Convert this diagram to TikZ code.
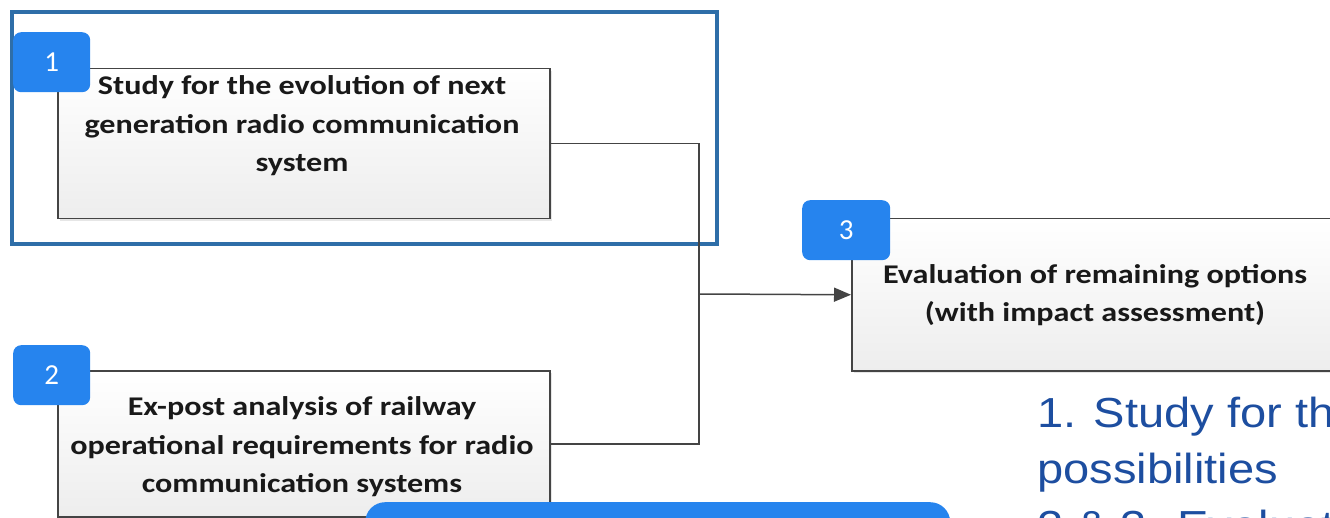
\documentclass[tikz,border=0pt]{standalone}
\usepackage{fontspec}
\setmainfont{Carlito}
\newfontfamily\boxfont[FakeStretch=1.19]{Carlito}
\newfontfamily\arialf[FakeStretch=1.12]{Liberation Sans}
\usetikzlibrary{arrows.meta,shadows}
\definecolor{frameblue}{RGB}{46,110,168}
\definecolor{badgeblue}{RGB}{38,132,238}
\definecolor{textblue}{RGB}{29,78,160}
\definecolor{linegray}{RGB}{68,68,68}
\tikzset{
  procbox/.style={draw=linegray, line width=1.5pt, top color=white, bottom color=black!7,
    drop shadow={opacity=0.2, shadow xshift=2pt, shadow yshift=-2pt},
    minimum width=492pt, minimum height=150pt, inner sep=0pt, anchor=north west},
  boxtext/.style={align=center, font=\boxfont\fontsize{27}{38.5}\selectfont\bfseries, text=black!90},
  badge/.style={fill=badgeblue, rounded corners=8pt, minimum width=77pt, minimum height=60pt,
    inner sep=0pt, anchor=north west, text=white, font=\fontsize{29}{30}\selectfont},
  bluetext/.style={anchor=base west, inner sep=0pt, text=textblue, font=\arialf\fontsize{42}{56}\selectfont},
  conn/.style={draw=linegray, line width=1.5pt},
  arrowtip/.style={-{Triangle[length=17pt,width=14pt]}}
}
\begin{document}
\begin{tikzpicture}[x=1pt,y=-1pt]
\useasboundingbox (0,0) rectangle (1330,518);
\clip (0,0) rectangle (1330,518);
% boxes
\node[procbox] (b1) at (57,68) {};
\node[procbox, minimum height=146pt] (b2) at (57,370) {};
\node[procbox, minimum width=500pt, minimum height=152pt] (b3) at (851,218) {};
% frame around step 1
\node[draw=frameblue, line width=4pt, minimum width=705pt, minimum height=232pt, inner sep=0pt, anchor=north west] (frame) at (10,10) {};
% texts
\node[boxtext] (t1) at (302,126) {Study for the evolution of next\\generation radio communication\\system};
\node[boxtext] (t2) at (302,447) {Ex-post analysis of railway\\operational requirements for radio\\communication systems};
\node[boxtext] (t3) at (1095,295) {Evaluation of remaining options\\(with impact assessment)};
% connectors
\coordinate (j) at (699,294);
\draw[conn] (b1.east) -| (j) |- (b2.east);
\draw[conn, arrowtip] (j) -- (b3.west);
% badges
\node[badge] (n1) at (13,32) {1};
\node[badge] (n2) at (13,345) {2};
\node[badge, minimum width=88pt] (n3) at (802,200) {3};
% bottom blue box
\node[fill=badgeblue, rounded corners=20pt, minimum width=585pt, minimum height=80pt, inner sep=0pt, anchor=north west] (bluebox) at (365,502) {};
% blue text
\node[bluetext] (bt1) at (1037,427) {1. Study for the evolution};
\node[bluetext] (bt2) at (1037,483.5) {possibilities};
\node[bluetext] (bt3) at (1037,540) {2 \& 3. Evaluation};
\end{tikzpicture}
\end{document}
